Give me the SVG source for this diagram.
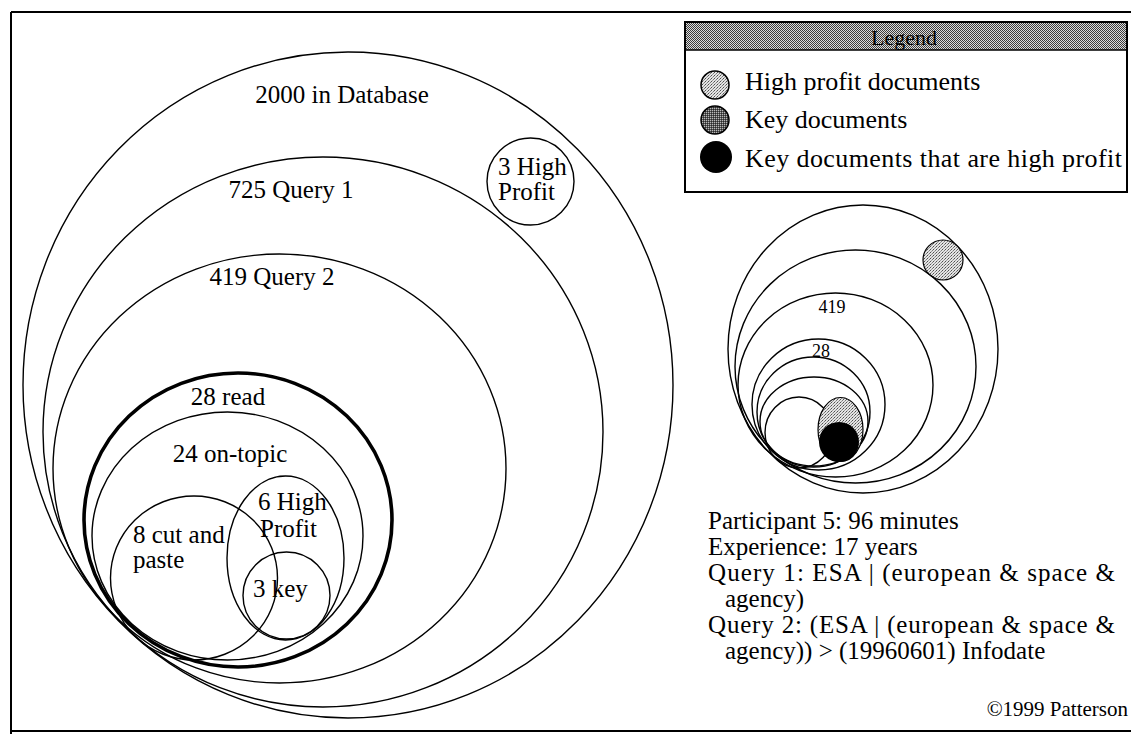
<svg xmlns="http://www.w3.org/2000/svg" width="1131" height="734" viewBox="0 0 1131 734">
  <style>
    .t { font-family: "Liberation Serif", "Times New Roman", serif; fill: #000; }
    .lbl { font-size: 25px; }
    .leg { font-size: 26px; }
    .sm { font-size: 18px; }
    .ring { fill: none; stroke: #000; stroke-width: 1.4; }
    .thick { fill: none; stroke: #000; stroke-width: 3.6; }
    .frame { stroke: #000; stroke-width: 2; fill: none; }
  </style>
  <defs>
    <!-- 50% dither used for the legend title band -->
    <pattern id="ditherMid" width="2" height="2" patternUnits="userSpaceOnUse">
      <rect width="2" height="2" fill="#dcdcdc"/>
      <rect x="0" y="0" width="1" height="1" fill="#3c3c3c"/>
      <rect x="1" y="1" width="1" height="1" fill="#3c3c3c"/>
    </pattern>
    <!-- light stipple: high profit documents -->
    <pattern id="stippleLight" width="3" height="3" patternUnits="userSpaceOnUse">
      <rect width="3" height="3" fill="#e4e4e4"/>
      <rect x="0" y="0" width="1" height="1" fill="#505050"/>
      <rect x="2" y="1" width="1" height="1" fill="#7a7a7a"/>
      <rect x="1" y="2" width="1" height="1" fill="#9a9a9a"/>
    </pattern>
    <!-- dark stipple: key documents -->
    <pattern id="stippleDark" width="2" height="2" patternUnits="userSpaceOnUse">
      <rect width="2" height="2" fill="#555"/>
      <rect x="0" y="0" width="1" height="1" fill="#b8b8b8"/>
      <rect x="1" y="1" width="1" height="1" fill="#2a2a2a"/>
    </pattern>
  </defs>

  <rect width="1131" height="734" fill="#fff"/>

  <!-- page frame -->
  <g id="frame">
    <path class="frame" d="M11 12 H1131 M11 12 V734 M11 731 H1131"/>
  </g>

  <!-- main nested sets -->
  <g id="set-database">
    <ellipse class="ring" cx="348" cy="385" rx="325" ry="333"/>
    <text class="t lbl" x="342" y="103" text-anchor="middle">2000 in Database</text>
  </g>
  <g id="set-high-profit-all">
    <ellipse class="ring" cx="530.5" cy="181.5" rx="43.5" ry="43.5"/>
    <text class="t lbl" x="498" y="175">3 High</text>
    <text class="t lbl" x="498" y="200">Profit</text>
  </g>
  <g id="set-query1">
    <ellipse class="ring" cx="323" cy="432" rx="280" ry="275"/>
    <text class="t lbl" x="291" y="198" text-anchor="middle">725 Query 1</text>
  </g>
  <g id="set-query2">
    <ellipse class="ring" cx="279.5" cy="468.5" rx="226.5" ry="214.5"/>
    <text class="t lbl" x="272" y="285" text-anchor="middle">419 Query 2</text>
  </g>
  <g id="set-read">
    <ellipse class="thick" cx="238" cy="520" rx="154" ry="147"/>
    <text class="t lbl" x="228" y="405" text-anchor="middle">28 read</text>
  </g>
  <g id="set-on-topic">
    <ellipse class="ring" cx="227.5" cy="536" rx="135.5" ry="124"/>
    <text class="t lbl" x="230" y="462" text-anchor="middle">24 on-topic</text>
  </g>
  <g id="set-cut-paste">
    <ellipse class="ring" cx="194" cy="578" rx="83.5" ry="82"/>
    <text class="t lbl" x="133" y="543">8 cut and</text>
    <text class="t lbl" x="133" y="568">paste</text>
  </g>
  <g id="set-high-profit">
    <ellipse class="ring" cx="285.5" cy="558" rx="58.5" ry="82"/>
    <text class="t lbl" x="258" y="510">6 High</text>
    <text class="t lbl" x="260" y="537">Profit</text>
  </g>
  <g id="set-key">
    <ellipse class="ring" cx="286.5" cy="595.5" rx="43.5" ry="43.5"/>
    <text class="t lbl" x="253" y="597">3 key</text>
  </g>

  <!-- legend -->
  <g id="legend">
    <rect x="685" y="22" width="442" height="28" fill="url(#ditherMid)"/>
    <rect class="frame" x="685" y="22" width="442" height="170"/>
    <line x1="685" y1="50" x2="1127" y2="50" stroke="#000" stroke-width="1.5"/>
    <text class="t" x="904" y="45" font-size="22" text-anchor="middle">Legend</text>
    <circle cx="715" cy="85" r="14" fill="url(#stippleLight)" stroke="#000" stroke-width="1.5"/>
    <text class="t leg" x="745" y="90">High profit documents</text>
    <circle cx="715" cy="120" r="14" fill="url(#stippleDark)" stroke="#000" stroke-width="1.5"/>
    <text class="t leg" x="745" y="128">Key documents</text>
    <circle cx="716" cy="157" r="16" fill="#000"/>
    <text class="t leg" x="745" y="167" textLength="377">Key documents that are high profit</text>
  </g>

  <!-- miniature of the same sets -->
  <g id="mini-sets">
    <ellipse class="ring" cx="863" cy="349" rx="135" ry="144"/>
    <circle cx="943" cy="260" r="20" fill="url(#stippleLight)" stroke="#000" stroke-width="1.2"/>
    <ellipse class="ring" cx="855.5" cy="366.5" rx="120.5" ry="116.5"/>
    <ellipse class="ring" cx="835.5" cy="385" rx="97.5" ry="92"/>
    <text class="t sm" x="832" y="313" text-anchor="middle">419</text>
    <ellipse class="ring" cx="818.5" cy="404.5" rx="66.5" ry="65.5" stroke-width="3"/>
    <ellipse class="ring" cx="813.5" cy="412" rx="56.5" ry="55"/>
    <text class="t sm" x="821" y="357" text-anchor="middle">28</text>
    <ellipse class="ring" cx="814" cy="421.5" rx="54" ry="44.5"/>
    <ellipse class="ring" cx="799" cy="432.5" rx="34" ry="35.5" fill="#fff"/>
    <ellipse cx="840.5" cy="429.5" rx="22.5" ry="32" fill="url(#stippleLight)" stroke="#000" stroke-width="1.2"/>
    <circle cx="839" cy="442" r="20" fill="#000"/>
  </g>

  <!-- participant notes -->
  <g id="notes">
    <text class="t lbl" x="708" y="529">Participant 5: 96 minutes</text>
    <text class="t lbl" x="708" y="555">Experience: 17 years</text>
    <text class="t lbl" x="708" y="581" textLength="407">Query 1: ESA | (european &amp; space &amp;</text>
    <text class="t lbl" x="725" y="607">agency)</text>
    <text class="t lbl" x="708" y="633" textLength="407">Query 2: (ESA | (european &amp; space &amp;</text>
    <text class="t lbl" x="725" y="659">agency)) &gt; (19960601) Infodate</text>
    <text class="t" x="1128" y="716" font-size="21" text-anchor="end">©1999 Patterson</text>
  </g>
</svg>
